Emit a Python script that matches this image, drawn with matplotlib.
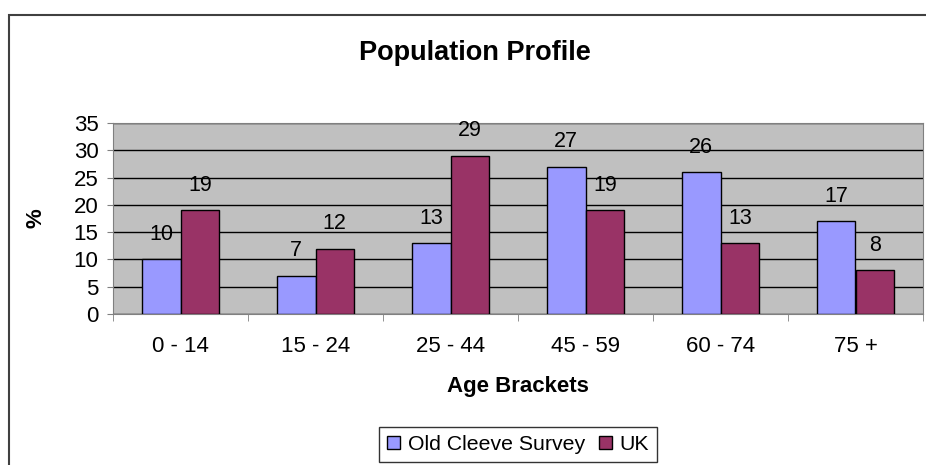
import numpy as np
import matplotlib
matplotlib.use("Agg")
import matplotlib.pyplot as plt
from matplotlib.patches import Patch, Rectangle

plt.rcParams['font.family'] = ['Liberation Sans', 'DejaVu Sans']

# datos
brackets = ["0 - 14", "15 - 24", "25 - 44", "45 - 59", "60 - 74", "75 +"]
old_cleeve = [10, 7, 13, 27, 26, 17]
uk = [19, 12, 29, 19, 13, 8]
series_names = ["Old Cleeve Survey", "UK"]

col_blue = "#9999FF"
col_red = "#993366"

fig = plt.figure(figsize=(9.26, 4.65), dpi=100)
# marco exterior del grafico
fig.patches.append(Rectangle((9/926, -0.1), 1.2, 1 - 15/465 + 0.1, transform=fig.transFigure,
                             fill=False, edgecolor="#404040", linewidth=1.5))

ax = fig.add_axes([113/926, 1 - 314/465, 810/926, 191/465])
ax.set_facecolor("#C0C0C0")

x = np.arange(len(brackets))
w = 1/3.5
b1 = ax.bar(x - w/2, old_cleeve, w, color=col_blue, edgecolor="black", linewidth=1, zorder=3)
b2 = ax.bar(x + w/2, uk, w, color=col_red, edgecolor="black", linewidth=1, zorder=3)

for bars, vals in ((b1, old_cleeve), (b2, uk)):
    for r, v in zip(bars, vals):
        ax.annotate(str(v), (r.get_x() + r.get_width()/2, v), xytext=(0, 25),
                    textcoords="offset pixels", ha="center", va="center", fontsize=15.5, zorder=4)

ax.set_xlim(-0.5, 5.5)
ax.set_ylim(0, 35)
ax.set_yticks(np.arange(0, 36, 5))
ax.yaxis.grid(True, color="black", linewidth=1, zorder=1)
ax.set_xticks(x)
ax.set_xticklabels(brackets)
ax.set_xticks(np.arange(-0.5, 6, 1), minor=True)
ax.tick_params(axis="x", which="major", length=0, pad=16, labelsize=16)
ax.tick_params(axis="x", which="minor", length=5, color="#808080")
ax.tick_params(axis="y", length=4.5, color="#808080", labelsize=16, pad=6)

for s in ["top", "right", "left", "bottom"]:
    ax.spines[s].set_color("#808080")

ax.set_ylabel("%", fontsize=16, fontweight="bold")
ax.yaxis.set_label_coords((47 - 113)/810, 0.5)
ax.set_xlabel("Age Brackets", fontsize=16, fontweight="bold", va="baseline")
ax.xaxis.set_label_coords(0.5, -(392 - 314)/191)

fig.text(475/926, 1 - 60/465, "Population Profile", ha="center", va="baseline",
         fontsize=19.5, fontweight="bold")

handles = [Patch(facecolor=col_blue, edgecolor="black"), Patch(facecolor=col_red, edgecolor="black")]
leg = fig.legend(handles, series_names, loc="upper center", bbox_to_anchor=(518/926, 1 - 427/465),
                 ncol=2, fontsize=15.3, frameon=True, fancybox=False, handlelength=0.62,
                 handleheight=0.62, handletextpad=0.37, columnspacing=0.65, borderpad=0.38,
                 borderaxespad=0)
leg.get_frame().set_edgecolor("black")
leg.get_frame().set_linewidth(1)

plt.savefig("out.png", dpi=100)
plt.close()
